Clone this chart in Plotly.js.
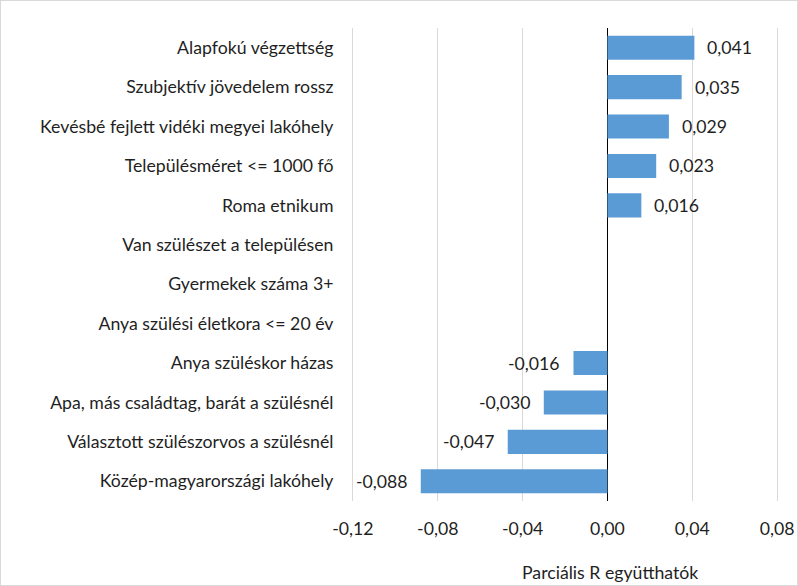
<!DOCTYPE html>
<html><head><meta charset="utf-8">
<script src="https://cdn.plot.ly/plotly-3.0.1.min.js"></script>
<style>html,body{margin:0;padding:0;background:#fff}#wrap{position:relative;width:798px;height:586px}#chart{width:798px;height:586px}#frame{position:absolute;left:0;top:0;width:796px;height:584px;border:1px solid #d9d9d9;pointer-events:none}</style>
</head><body>
<div id="wrap"><div id="chart"></div><div id="frame"></div></div>
<script>
const categories = [
  "Alapfokú végzettség",
  "Szubjektív jövedelem rossz",
  "Kevésbé fejlett vidéki megyei lakóhely",
  "Településméret <= 1000 fő",
  "Roma etnikum",
  "Van szülészet a településen",
  "Gyermekek száma 3+",
  "Anya szülési életkora <= 20 év",
  "Anya szüléskor házas",
  "Apa, más családtag, barát a szülésnél",
  "Választott szülészorvos a szülésnél",
  "Közép-magyarországi lakóhely"
];
const values = [0.041, 0.035, 0.029, 0.023, 0.016, null, null, null, -0.016, -0.030, -0.047, -0.088];
const tickValues = [-0.12, -0.08, -0.04, 0.00, 0.04, 0.08];
const tickLabels = ["-0,12", "-0,08", "-0,04", "0,00", "0,04", "0,08"];
const axisTitle = "Parciális R együtthatók";

const FONT = "Lato, 'Open Sans', sans-serif";
const TXT = "#1f1f1f";
const FS = 17.7;
const fmt = v => (v < 0 ? "-" : "") + Math.abs(v).toFixed(3).replace(".", ",");

const annotations = [];
values.forEach((v, i) => {
  if (v === null) return;
  annotations.push({
    x: v, y: categories[i], xref: "x", yref: "y",
    text: fmt(v), showarrow: false,
    xanchor: v >= 0 ? "left" : "right",
    xshift: v >= 0 ? 11 : -11,
    font: {family: FONT, size: FS, color: TXT}
  });
});
annotations.push({
  x: 0.605, y: 0, xref: "paper", yref: "paper", yshift: -71,
  text: axisTitle, showarrow: false, xanchor: "center", yanchor: "middle",
  font: {family: FONT, size: FS, color: TXT}
});

const trace = {
  type: "bar", orientation: "h",
  x: values, y: categories,
  marker: {color: "#5b9bd5"},
  hoverinfo: "none"
};

const layout = {
  width: 798, height: 586,
  margin: {l: 351, r: 19, t: 28, b: 85},
  paper_bgcolor: "#fff", plot_bgcolor: "#fff",
  bargap: 0.39,
  showlegend: false,
  font: {family: FONT, size: FS, color: TXT},
  xaxis: {
    range: [-0.1209, 0.0809],
    tickmode: "array", tickvals: tickValues, ticktext: tickLabels,
    showgrid: true, gridcolor: "#d9d9d9", gridwidth: 1,
    zeroline: true, zerolinecolor: "#000", zerolinewidth: 1,
    showline: false,
    ticks: "outside", ticklen: 12, tickcolor: "rgba(0,0,0,0)",
    tickfont: {family: FONT, size: FS, color: TXT},
    fixedrange: true
  },
  yaxis: {
    type: "category", autorange: "reversed",
    showgrid: false, zeroline: false, showline: false,
    ticks: "outside", ticklen: 13, tickcolor: "rgba(0,0,0,0)",
    tickfont: {family: FONT, size: FS, color: TXT},
    fixedrange: true
  },
  annotations: annotations
};

Plotly.newPlot("chart", [trace], layout, {displayModeBar: false, staticPlot: true});
</script>
</body></html>
